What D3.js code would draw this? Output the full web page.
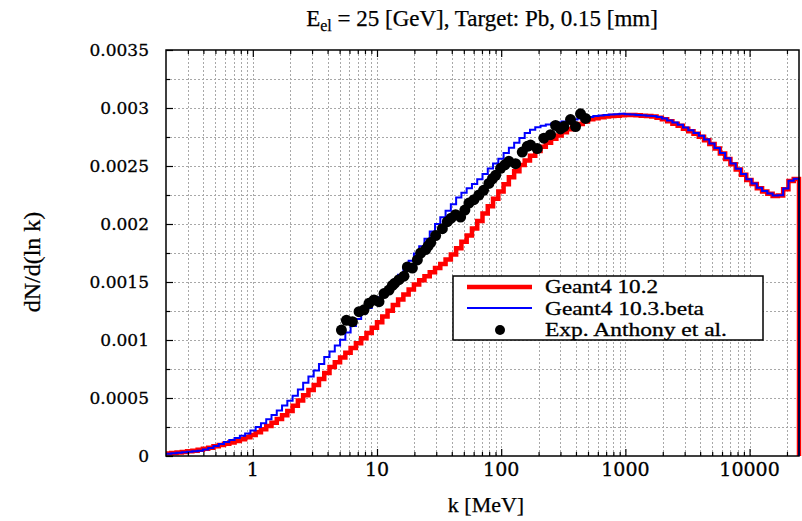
<!DOCTYPE html>
<html><head><meta charset="utf-8">
<script src="https://cdn.jsdelivr.net/npm/d3@7"></script>
<style>
html,body{margin:0;padding:0;background:#fff;}
</style></head>
<body><svg id="c" width="802" height="521"></svg>
<script>
// ---- data ----
const kMin = 0.2, kMax = 25000, nBins = 120;
const xTickValues = [1, 10, 100, 1000, 10000];
const xTickLabels = ["1", "10", "100", "1000", "10000"];
const yTickValues = [0, 0.0005, 0.001, 0.0015, 0.002, 0.0025, 0.003, 0.0035];
const yTickLabels = ["0", "0.0005", "0.001", "0.0015", "0.002", "0.0025", "0.003", "0.0035"];

// Geant4 10.2 (units of 1e-3)
const g4_102 = [
0.022,0.026,0.030,0.035,0.040,0.046,0.053,0.063,0.072,0.083,
0.094,0.105,0.117,0.129,0.144,0.162,0.182,0.205,0.230,0.258,
0.287,0.318,0.352,0.388,0.433,0.478,0.523,0.568,0.613,0.664,
0.715,0.767,0.808,0.850,0.890,0.931,0.973,1.015,1.060,1.106,
1.152,1.202,1.253,1.302,1.350,1.393,1.435,1.478,1.516,1.550,
1.585,1.620,1.656,1.694,1.737,1.792,1.847,1.900,1.962,2.026,
2.090,2.153,2.217,2.280,2.343,2.402,2.455,2.508,2.548,2.589,
2.629,2.665,2.700,2.734,2.763,2.790,2.816,2.842,2.862,2.884,
2.902,2.912,2.920,2.926,2.930,2.934,2.937,2.940,2.940,2.937,
2.934,2.931,2.926,2.915,2.903,2.885,2.865,2.846,2.822,2.800,
2.777,2.752,2.722,2.690,2.650,2.607,2.560,2.516,2.470,2.425,
2.380,2.345,2.308,2.280,2.260,2.242,2.245,2.300,2.370,2.388];

// Geant4 10.3.beta (units of 1e-3)
const g4_103b = [
0.020,0.024,0.028,0.033,0.037,0.041,0.045,0.055,0.070,0.086,
0.103,0.120,0.137,0.155,0.174,0.195,0.220,0.250,0.283,0.316,
0.353,0.393,0.436,0.477,0.520,0.574,0.632,0.685,0.737,0.793,
0.853,0.900,0.953,1.002,1.065,1.120,1.180,1.228,1.275,1.325,
1.368,1.410,1.452,1.503,1.562,1.622,1.683,1.746,1.809,1.872,
1.935,2.000,2.058,2.114,2.170,2.228,2.270,2.308,2.345,2.385,
2.432,2.479,2.522,2.563,2.612,2.658,2.700,2.742,2.784,2.813,
2.834,2.847,2.858,2.866,2.875,2.884,2.893,2.901,2.910,2.917,
2.923,2.930,2.935,2.940,2.944,2.946,2.950,2.946,2.944,2.940,
2.938,2.934,2.930,2.922,2.910,2.893,2.875,2.855,2.832,2.808,
2.785,2.760,2.728,2.695,2.656,2.612,2.566,2.521,2.476,2.430,
2.386,2.350,2.312,2.284,2.262,2.245,2.248,2.305,2.373,2.390];

// Exp. Anthony et al.
const expK = [5.17,5.67,6.34,7.17,7.86,8.62,9.46,10.38,11.39,12.49,
13.30,13.9,15.03,16.49,17.57,19.27,21.13,22.47,24.65,25.8,27.04,29.66,
33.59,36.84,39.5,42.96,47.13,51.0,54.97,60.31,66.15,72.1,79.6,85.0,90.2,
98.9,107,115.3,130.6,147.8,162.2,172.4,195,220.6,249.5,274.1,300,
319.5,361.5,396.9,435.5,477.5];
const expV = [1.086,1.170,1.158,1.244,1.260,1.316,1.345,1.330,1.400,1.430,
1.470,1.490,1.520,1.550,1.630,1.620,1.690,1.750,1.780,1.810,1.840,1.900,
1.960,2.020,2.050,2.080,2.060,2.120,2.180,2.210,2.250,2.290,2.350,2.390,2.420,
2.480,2.510,2.540,2.520,2.620,2.670,2.680,2.650,2.740,2.770,2.850,2.820,
2.840,2.900,2.840,2.950,2.910];

const legendItems = ["Geant4 10.2", "Geant4 10.3.beta", "Exp. Anthony et al."];
const legendWidths = [113, 159, 182];

// ---- layout ----
const SERIF = "'Liberation Serif', 'Times New Roman', Times, serif";
const L = 166, R = 799, T = 50, B = 456;
const svg = d3.select("#c");
const x = d3.scaleLog().domain([kMin, kMax]).range([L, R]);
const y = d3.scaleLinear().domain([0, 0.0035]).range([B, T]);

// bin edges (log-uniform binning)
const edges = d3.range(nBins + 1).map(i => kMin * Math.pow(kMax / kMin, i / nBins));

// grid
const minorX = [];
for (let e = -1; e <= 4; e++) for (let m = 1; m <= 9; m++) {
  const v = m * Math.pow(10, e);
  if (v > kMin && v < kMax) minorX.push(v);
}
const gridY = d3.range(1, 14).map(i => i * 0.00025);
const grid = svg.append("g").attr("stroke", "#a8a8a8").attr("stroke-width", 1).attr("stroke-dasharray", "2,2");
grid.selectAll("line.gx").data(minorX).join("line")
  .attr("x1", d => Math.round(x(d)) + 0.5).attr("x2", d => Math.round(x(d)) + 0.5)
  .attr("y1", T).attr("y2", B);
grid.selectAll("line.gy").data(gridY).join("line")
  .attr("x1", L).attr("x2", R)
  .attr("y1", d => Math.round(y(d)) + 0.5).attr("y2", d => Math.round(y(d)) + 0.5);

// histograms
function histPts(vals) {
  const pts = vals.map((v, i) => [edges[i], v * 1e-3]);
  pts.push([edges[nBins], vals[nBins - 1] * 1e-3]);
  pts.push([edges[nBins], 0]);
  return pts;
}
const stepLine = d3.line().x(d => x(d[0])).y(d => y(d[1])).curve(d3.curveStepAfter);
svg.append("path").attr("d", stepLine(histPts(g4_102)))
  .attr("fill", "none").attr("stroke", "#ff0000").attr("stroke-width", 4.5);
svg.append("path").attr("d", stepLine(histPts(g4_103b)))
  .attr("fill", "none").attr("stroke", "#0000ff").attr("stroke-width", 2);

// data points
svg.append("g").selectAll("circle").data(expK.map((k, i) => [k, expV[i] * 1e-3])).join("circle")
  .attr("cx", d => x(d[0])).attr("cy", d => y(d[1])).attr("r", 5.5).attr("fill", "#000");

// frame
svg.append("rect").attr("x", L).attr("y", T).attr("width", R - L).attr("height", B - T)
  .attr("fill", "none").attr("stroke", "#000").attr("stroke-width", 1.5);

// axes ticks (inward) via d3 axes
const xMajor = xTickValues;
const xMinorOnly = minorX.filter(v => !xMajor.includes(v));
const noDom = g => g.select(".domain").remove();
svg.append("g").attr("transform", `translate(0,${B})`).call(d3.axisTop(x).tickValues(xMajor).tickSize(7).tickFormat("")).call(noDom);
svg.append("g").attr("transform", `translate(0,${B})`).call(d3.axisTop(x).tickValues(xMinorOnly).tickSize(4).tickFormat("")).call(noDom);
svg.append("g").attr("transform", `translate(0,${T})`).call(d3.axisBottom(x).tickValues(xMajor).tickSize(7).tickFormat("")).call(noDom);
svg.append("g").attr("transform", `translate(0,${T})`).call(d3.axisBottom(x).tickValues(xMinorOnly).tickSize(4).tickFormat("")).call(noDom);
svg.append("g").attr("transform", `translate(${L},0)`).call(d3.axisRight(y).tickValues(yTickValues).tickSize(7).tickFormat("")).call(noDom);
svg.append("g").attr("transform", `translate(${L},0)`).call(d3.axisRight(y).tickValues(gridY.filter((d, i) => i % 2 === 0)).tickSize(4).tickFormat("")).call(noDom);
svg.selectAll(".tick line").attr("stroke", "#000").attr("stroke-width", 1.2);

// tick labels
svg.append("g").selectAll("text").data(yTickValues).join("text")
  .attr("x", 149).attr("y", d => y(d)).attr("dy", "0.35em").attr("text-anchor", "end")
  .attr("font-family", "'DejaVu Serif', serif").attr("font-size", 17)
  .attr("stroke", "#000").attr("stroke-width", 0.3)
  .text((d, i) => yTickLabels[i]);
svg.append("g").selectAll("text").data(xTickValues).join("text")
  .attr("x", d => x(d)).attr("y", 476).attr("text-anchor", "middle")
  .attr("font-family", "'DejaVu Serif', serif").attr("font-size", 19)
  .attr("stroke", "#000").attr("stroke-width", 0.3)
  .text((d, i) => xTickLabels[i]);

// title
const title = svg.append("text").attr("x", 482).attr("y", 26).attr("text-anchor", "middle")
  .attr("font-family", SERIF).attr("font-size", 23).attr("stroke", "#000").attr("stroke-width", 0.25);
title.append("tspan").text("E");
title.append("tspan").attr("dy", 5).attr("font-size", 16).text("el");
title.append("tspan").attr("dy", -5).text(" = 25 [GeV], Target: Pb, 0.15 [mm]");

// axis titles
svg.append("text").attr("x", 486).attr("y", 512).attr("text-anchor", "middle")
  .attr("font-family", SERIF).attr("font-size", 22).attr("stroke", "#000").attr("stroke-width", 0.25).text("k [MeV]");
svg.append("text").attr("transform", "translate(40,262) rotate(-90)").attr("text-anchor", "middle")
  .attr("font-family", SERIF).attr("font-size", 24).attr("stroke", "#000").attr("stroke-width", 0.25).text("dN/d(ln k)");

// legend
const lg = svg.append("g");
lg.append("rect").attr("x", 453).attr("y", 276).attr("width", 310).attr("height", 64)
  .attr("fill", "#fff").attr("stroke", "#000").attr("stroke-width", 1.5);
lg.append("line").attr("x1", 467).attr("x2", 532).attr("y1", 287).attr("y2", 287).attr("stroke", "#ff0000").attr("stroke-width", 4.5);
lg.append("line").attr("x1", 467).attr("x2", 532).attr("y1", 308).attr("y2", 308).attr("stroke", "#0000ff").attr("stroke-width", 2);
lg.append("circle").attr("cx", 500).attr("cy", 330).attr("r", 5).attr("fill", "#000");
lg.selectAll("text").data(legendItems).join("text")
  .attr("x", 545).attr("y", (d, i) => 293 + i * 21.5)
  .attr("font-family", SERIF).attr("font-size", 19.4)
  .attr("stroke", "#000").attr("stroke-width", 0.3)
  .attr("textLength", (d, i) => legendWidths[i]).attr("lengthAdjust", "spacingAndGlyphs")
  .text(d => d);
</script></body></html>
